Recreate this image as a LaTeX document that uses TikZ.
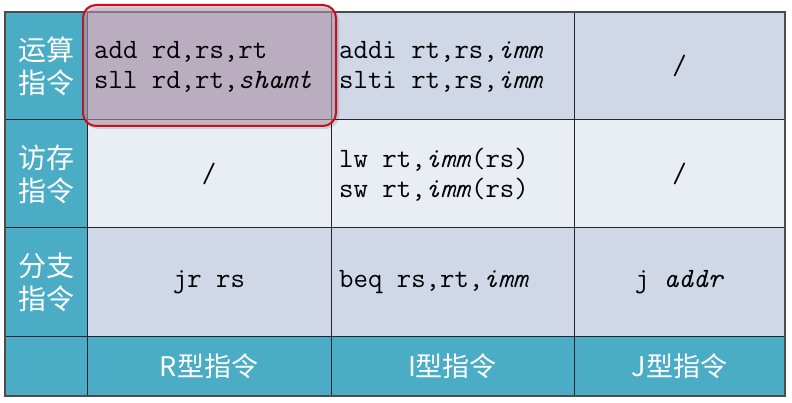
\documentclass[tikz,border=0pt]{standalone}
\usepackage{fontspec}
\newfontfamily\cjk{Noto Sans CJK SC}
\usepackage{xcolor}
\usepackage{tikz}
\usetikzlibrary{calc}
\definecolor{head}{HTML}{4BACC6}
\definecolor{darkrow}{HTML}{D0D8E8}
\definecolor{lightrow}{HTML}{E9EDF4}
\definecolor{mauve}{HTML}{C0A0B8}
\definecolor{hilite}{HTML}{C8101A}

\begin{document}
\begin{tikzpicture}[x=1pt,y=-1pt,
	grid/.style={black!85,line width=1pt},
	frame/.style={black!70,line width=1.6pt},
	h/.style={text=white,font=\cjk\fontsize{28}{33}\selectfont,align=center},
	t/.style={text=white,font=\cjk\fontsize{27}{30}\selectfont},
	c/.style={font=\ttfamily\fontsize{28}{30}\selectfont,align=left,inner sep=0pt},
	hl/.style={draw=hilite,line width=2pt,rounded corners=13pt,fill=mauve,fill opacity=0.55}]
				\useasboundingbox (0,0) rectangle (792,403);
				\fill[white] (0,0) rectangle (792,403);
				\fill[head] (5,12) rectangle (87,396);
				\fill[head] (87,336) rectangle (785,396);
				\fill[darkrow] (87,12) rectangle (785,120);
				\fill[lightrow] (87,120) rectangle (785,228);
				\fill[darkrow] (87,228) rectangle (785,336);
				\foreach \x in {87,331,574}
					\draw[grid] (\x,12) -- (\x,396);
				\foreach \y in {120,228,336}
					\draw[grid] (5,\y) -- (785,\y);
				\draw[frame] (5,12) rectangle (785,396);
				\fill[black,opacity=0.12,rounded corners=13pt] (85,8) rectangle (339,129);
				\draw[hl] (83,5) rectangle (336,126);
				\node[h] (alu) at (46,66) {运算\\指令};
				\node[h] (mem) at (46,174) {访存\\指令};
				\node[h] (br) at (46,282) {分支\\指令};
				\node[t] (rtype) at (209,366) {R型指令};
				\node[t] (itype) at (452.5,366) {I型指令};
				\node[t] (jtype) at (679.5,366) {J型指令};
				\node[c,anchor=west] (ralu) at (94,67) {add rd,rs,rt\\sll rd,rt,\textit{shamt}};
				\node[c,anchor=west] (ialu) at (339,67) {addi rt,rs,\textit{imm}\\slti rt,rs,\textit{imm}};
				\node[c] (jalu) at (679.5,66) {/};
				\node[c] (rmem) at (209,174) {/};
				\node[c,anchor=west] (imem) at (339,175) {lw rt,\textit{imm}(rs)\\sw rt,\textit{imm}(rs)};
				\node[c] (jmem) at (679.5,174) {/};
				\node[c] (rbr) at (209,282) {jr rs};
				\node[c,anchor=west] (ibr) at (339,282) {beq rs,rt,\textit{imm}};
				\node[c] (jbr) at (679.5,282) {j \textit{addr}};
			\end{tikzpicture}
\end{document}
